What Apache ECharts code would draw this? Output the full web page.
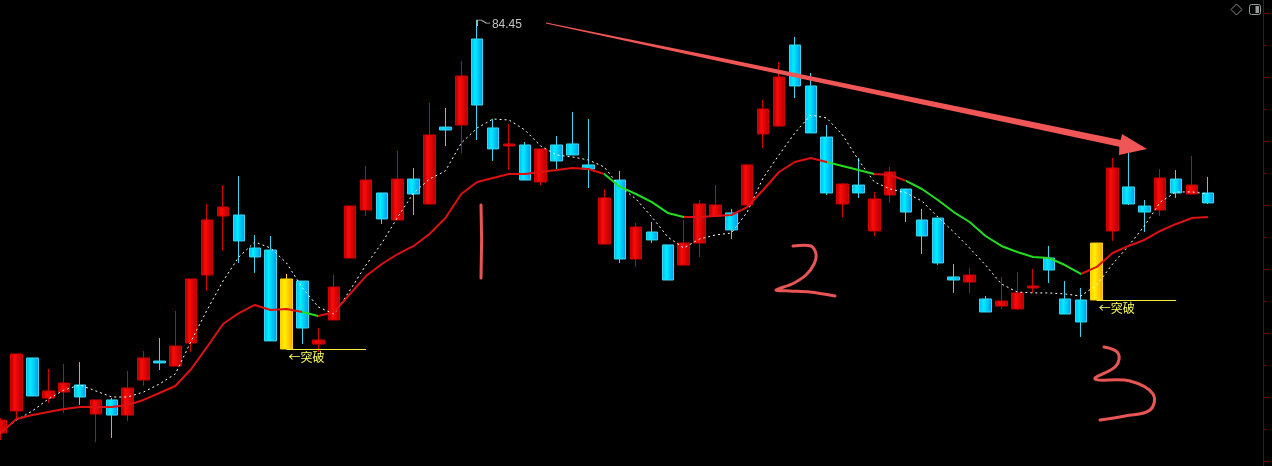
<!DOCTYPE html>
<html>
<head>
<meta charset="utf-8">
<title>K线 突破</title>
<script src="https://cdn.jsdelivr.net/npm/echarts@6/dist/echarts.min.js"></script>
<style>
  html, body { margin: 0; padding: 0; background: #000; }
  #main { width: 1272px; height: 466px; }
</style>
</head>
<body>
<div id="main"></div>
<script>
// 交易日（末尾留3个空位）
const days = [];
for (let i = 1; i <= 80; i++) days.push('D' + i);

// K线：开 收 低 高
const openVals = [52.19, 53.91, 58.05, 54.92, 55.39, 55.94, 53.67, 54.77, 53.59, 56.33,
  57.81, 57.42, 59.22, 64.53, 69.14, 69.22, 66.64, 66.48, 58.75, 64.06,
  59.14, 61.02, 65.86, 69.61, 70.94, 68.83, 72.03, 70.08, 76.09, 76.25,
  82.97, 76.02, 74.61, 74.69, 71.80, 74.69, 74.77, 73.13, 66.95, 71.95,
  65.78, 67.89, 66.88, 65.31, 67.03, 69.14, 69.38, 70.00, 75.55, 76.17,
  82.50, 79.30, 75.31, 70.08, 71.56, 67.97, 70.78, 71.25, 68.83, 68.98,
  64.38, 63.98, 62.66, 62.11, 61.88, 63.52, 65.86, 62.66, 62.58, 62.58,
  67.97, 71.41, 69.92, 69.61, 72.03, 70.86, 70.94];
const closeVals = [53.20, 58.36, 55.08, 55.47, 56.09, 55.00, 54.77, 53.59, 55.70, 58.05,
  57.66, 58.98, 64.22, 68.83, 69.84, 67.19, 65.94, 59.38, 64.22, 60.39,
  59.45, 63.59, 69.92, 71.95, 68.91, 72.03, 70.86, 75.47, 75.86, 80.08,
  77.81, 74.38, 74.77, 71.95, 74.38, 73.44, 73.91, 72.81, 70.55, 65.78,
  68.28, 67.27, 64.14, 67.03, 70.08, 70.00, 68.05, 73.13, 77.50, 80.00,
  79.30, 75.63, 70.94, 71.64, 70.94, 70.47, 72.58, 69.45, 67.58, 65.47,
  64.14, 64.53, 61.64, 62.50, 63.13, 63.67, 64.92, 61.48, 60.86, 67.03,
  72.89, 70.08, 69.45, 72.11, 70.94, 71.56, 70.16];
const lowVals = [51.64, 53.20, 55.08, 54.53, 53.75, 54.38, 51.48, 51.80, 53.13, 55.86,
  57.11, 57.42, 58.52, 63.28, 66.41, 65.47, 64.69, 59.38, 58.75, 59.14,
  58.52, 61.02, 65.86, 69.14, 68.52, 68.83, 69.22, 70.08, 74.61, 74.06,
  75.08, 73.44, 72.73, 71.95, 71.56, 72.81, 73.91, 71.33, 66.95, 65.47,
  65.16, 67.03, 64.14, 65.31, 65.94, 69.14, 67.34, 70.00, 74.45, 76.09,
  78.36, 75.63, 70.78, 69.06, 70.55, 67.58, 70.16, 68.67, 66.17, 65.31,
  63.13, 63.13, 61.64, 61.88, 61.80, 63.13, 63.91, 61.48, 59.69, 62.58,
  67.19, 70.00, 67.89, 69.14, 70.55, 70.86, 70.08];
const highVals = [53.36, 58.36, 58.05, 57.19, 57.58, 57.73, 54.77, 54.92, 57.03, 58.59,
  59.61, 61.72, 64.22, 70.08, 71.56, 72.27, 67.66, 67.58, 64.61, 64.06,
  60.39, 64.53, 69.92, 73.05, 70.94, 74.22, 72.89, 77.97, 77.58, 81.25,
  84.45, 76.72, 76.33, 74.92, 74.38, 75.39, 77.27, 76.72, 71.25, 72.66,
  68.59, 68.67, 66.88, 68.83, 70.39, 71.56, 69.69, 73.20, 78.20, 81.17,
  83.13, 80.31, 76.25, 71.72, 73.67, 71.02, 72.97, 71.25, 69.69, 68.98,
  65.39, 65.08, 62.89, 64.38, 64.77, 65.00, 66.80, 64.06, 63.52, 67.03,
  73.67, 74.14, 70.39, 72.81, 72.73, 73.83, 72.19];

// 白色虚线均线
const ma5Vals = [52.19, 53.20, 53.91, 54.84, 55.55, 55.94, 55.47, 55.00, 55.00, 55.39,
  56.02, 56.80, 59.38, 61.80, 64.06, 65.94, 67.11, 66.64, 65.47, 63.52,
  62.03, 61.48, 63.36, 65.31, 67.03, 69.06, 70.94, 72.03, 72.66, 74.84,
  76.02, 76.72, 76.64, 75.86, 74.61, 73.91, 73.75, 73.52, 72.97, 71.41,
  70.47, 69.06, 67.50, 66.64, 67.34, 67.66, 67.81, 69.45, 72.11, 73.91,
  75.63, 77.03, 76.80, 75.47, 73.52, 71.80, 71.25, 70.94, 70.31, 69.06,
  67.89, 66.64, 65.31, 63.83, 63.20, 63.13, 63.13, 63.05, 62.89, 63.75,
  65.39, 66.80, 68.36, 70.23, 71.02, 71.02, 70.86];
// 红绿趋势线
const trendVals = [52.19, 53.28, 53.59, 53.83, 54.06, 54.22, 54.22, 54.22, 54.38, 54.77,
  55.31, 55.86, 57.19, 58.91, 60.70, 61.56, 62.19, 61.80, 61.88, 61.64,
  61.33, 61.64, 63.05, 64.45, 65.39, 66.17, 66.80, 67.73, 68.98, 70.86,
  71.80, 72.11, 72.42, 72.42, 72.58, 72.73, 72.89, 72.81, 72.42, 71.41,
  70.86, 70.23, 69.38, 69.06, 69.06, 69.14, 69.22, 69.84, 71.17, 72.58,
  73.36, 73.67, 73.36, 73.05, 72.73, 72.42, 72.34, 71.88, 71.25, 70.39,
  69.45, 68.67, 67.58, 66.80, 66.33, 65.94, 65.86, 65.31, 64.61, 65.16,
  66.25, 66.80, 67.27, 67.97, 68.52, 68.98, 69.06];
// 趋势线下行（绿色）的区段
const fallRanges = [[16.8, 17.1], [18.9, 20], [38, 43], [52, 55], [57, 68]];
// 突破K线
const breakIdx = [18, 69];
const peakIdx = 30;

function hGrad(stops) {
  return new echarts.graphic.LinearGradient(0, 0, 1, 0,
    stops.map(function (s) { return { offset: s[0], color: s[1] }; }));
}
const redGrad = hGrad([[0, '#9a0000'], [0.35, '#ff0a0a'], [1, '#b00000']]);
const cyanGrad = hGrad([[0, '#00b4f4'], [0.35, '#00eeff'], [1, '#0096ea']]);
const yellowGrad = hGrad([[0, '#ffc400'], [0.35, '#fff000'], [1, '#ffa200']]);

const kData = openVals.map(function (o, i) {
  const item = { value: [o, closeVals[i], lowVals[i], highVals[i]] };
  if (breakIdx.indexOf(i) >= 0) {
    item.itemStyle = { color: yellowGrad, borderColor: '#ffd200' };
  }
  return item;
});

const breakLines = breakIdx.map(function (i) {
  return [
    { coord: [days[i], lowVals[i]] },
    { coord: [days[i + 5], lowVals[i]] }
  ];
});

const chartDom = document.getElementById('main');
const myChart = echarts.init(chartDom);

const redPen = { stroke: '#e85555', lineWidth: 3, lineCap: 'round', lineJoin: 'round', fill: null };

const option = {
  backgroundColor: '#000',
  animation: false,
  grid: { left: -7.34, right: 8.5, top: -51, bottom: -59, outerBoundsMode: 'none', containLabel: false },
  xAxis: {
    type: 'category',
    data: days,
    boundaryGap: true,
    axisLine: { show: false },
    axisTick: { show: false },
    axisLabel: { show: false },
    splitLine: { show: false }
  },
  yAxis: {
    type: 'value',
    position: 'right',
    min: 45,
    max: 90,
    interval: 5,
    axisLine: { show: true, lineStyle: { color: '#7a0000', width: 1 } },
    axisTick: { show: true, inside: false, length: 6, lineStyle: { color: '#7a0000' } },
    minorTick: { show: true, splitNumber: 2, length: 3, lineStyle: { color: '#7a0000' } },
    axisLabel: { show: false },
    splitLine: { show: false }
  },
  visualMap: {
    show: false,
    type: 'piecewise',
    seriesIndex: 2,
    dimension: 0,
    pieces: fallRanges.map(function (r) {
      return { gte: r[0], lte: r[1], color: '#22dd22' };
    }),
    outOfRange: { color: '#dd1111' }
  },
  series: [
    {
      name: 'K',
      type: 'candlestick',
      data: kData,
      barWidth: 12,
      itemStyle: {
        color: redGrad,
        color0: cyanGrad,
        borderColor: '#d40000',
        borderColor0: '#3cd6f2',
        borderWidth: 1
      },
      markLine: {
        silent: true,
        symbol: ['none', 'none'],
        lineStyle: { color: '#f4f040', width: 1, type: 'solid' },
        label: {
          show: true,
          position: 'insideStartBottom',
          distance: 2,
          formatter: '←突破',
          color: '#ffff60',
          fontSize: 12,
          fontFamily: 'Noto Sans CJK SC'
        },
        data: breakLines
      },
      markPoint: {
        silent: true,
        symbol: 'path://M0,6 L0,0 L4,0 L9,3 L13,3',
        symbolSize: [13, 6],
        symbolOffset: [6.5, 3],
        itemStyle: { color: 'transparent', borderColor: '#bdbdbd', borderWidth: 1 },
        label: {
          show: true,
          position: 'right',
          distance: 1,
          offset: [0, 2],
          formatter: function (p) { return p.value.toFixed(2); },
          color: '#c4c4c4',
          fontSize: 12,
          fontFamily: 'Liberation Sans'
        },
        data: [{ coord: [days[peakIdx], highVals[peakIdx]], value: highVals[peakIdx] }]
      }
    },
    {
      name: 'MA5',
      type: 'line',
      data: ma5Vals,
      symbol: 'none',
      silent: true,
      lineStyle: { color: '#ffffff', width: 1, type: [2, 3] }
    },
    {
      name: 'Trend',
      type: 'line',
      data: trendVals,
      symbol: 'none',
      silent: true,
      lineStyle: { width: 2 }
    }
  ],
  // 手绘标注
  graphic: [
    {
      type: 'polygon', z: 100, silent: true,
      shape: {
        points: [[546.1, 22.4], [719.6, 57.5], [949.4, 104.8], [1120.7, 140.0],
          [1122, 134], [1147, 149], [1119, 155], [1119.3, 146.8],
          [950.6, 110.6], [720.4, 61.5], [545.9, 23.6]]
      },
      style: { fill: '#f05656' }
    },
    {
      type: 'polyline', z: 100, silent: true,
      shape: { points: [[481, 205], [481.6, 240], [481, 278]] },
      style: redPen
    },
    {
      type: 'polyline', z: 100, silent: true,
      shape: {
        smooth: 0.3,
        points: [[793, 246], [811, 246], [816, 254], [814, 264], [806, 275],
          [792, 284], [776, 290], [790, 291], [810, 292], [835, 296]]
      },
      style: redPen
    },
    {
      type: 'polyline', z: 100, silent: true,
      shape: {
        smooth: 0.4,
        points: [[1104, 347], [1118, 353], [1116, 366], [1095, 379], [1130, 381],
          [1153, 394], [1150, 410], [1125, 416], [1100, 420]]
      },
      style: redPen
    },
    {
      type: 'polygon', z: 100, silent: true,
      shape: { points: [[1236.5, 4], [1242, 9.5], [1236.5, 15], [1231, 9.5]] },
      style: { fill: null, stroke: '#8a8a8a', lineWidth: 1 }
    },
    {
      type: 'rect', z: 100, silent: true,
      shape: { x: 1249.5, y: 4.5, width: 11, height: 10, r: 2 },
      style: { fill: null, stroke: '#9a9a9a', lineWidth: 1 }
    },
    {
      type: 'rect', z: 100, silent: true,
      shape: { x: 1255.5, y: 6, width: 3.5, height: 7 },
      style: { fill: '#9a9a9a' }
    }
  ]
};

option && myChart.setOption(option, true);
window.addEventListener('resize', function () {
  myChart.resize();
});
</script>
</body>
</html>
